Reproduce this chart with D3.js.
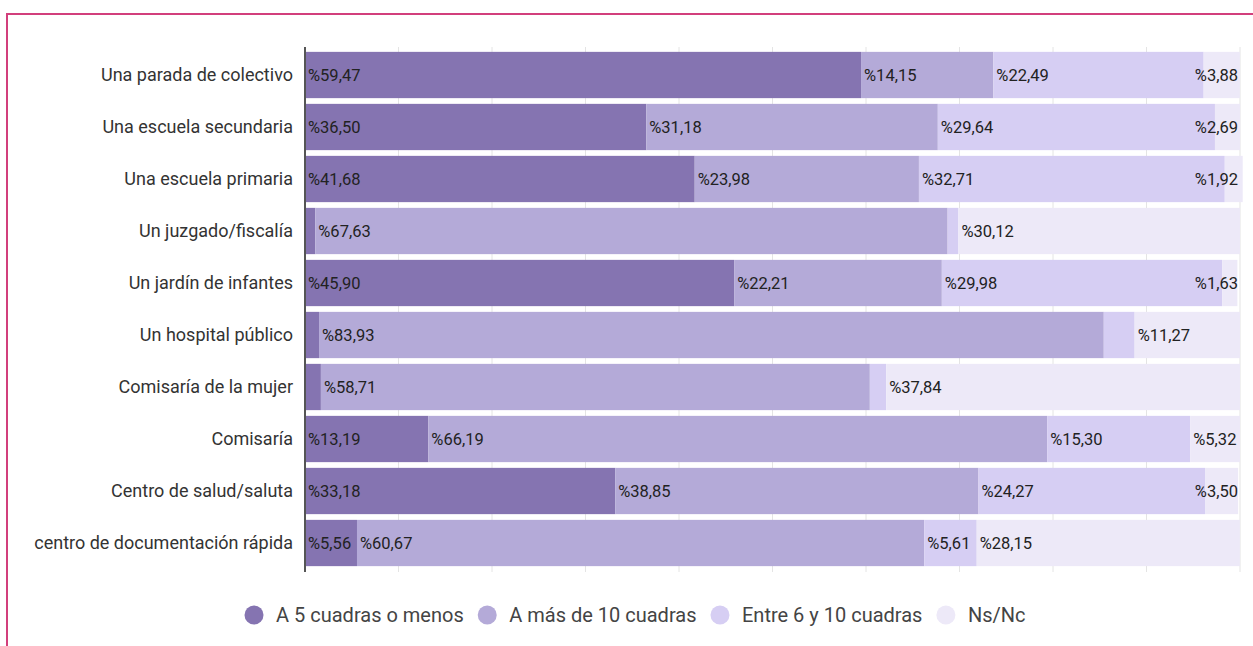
<!DOCTYPE html>
<html>
<head>
<meta charset="utf-8">
<script src="https://cdn.jsdelivr.net/npm/d3@7"></script>
<style>
  body { margin: 0; background: #fff; }
  svg { display: block; font-family: Roboto, "Noto Sans", sans-serif; }
</style>
</head>
<body>
<svg width="1253" height="646"></svg>
<script>
// categories, top to bottom
var categories = [
  "Una parada de colectivo",
  "Una escuela secundaria",
  "Una escuela primaria",
  "Un juzgado/fiscalía",
  "Un jardín de infantes",
  "Un hospital público",
  "Comisaría de la mujer",
  "Comisaría",
  "Centro de salud/saluta",
  "centro de documentación rápida"
];

var seriesNames = ["A 5 cuadras o menos", "A más de 10 cuadras", "Entre 6 y 10 cuadras", "Ns/Nc"];

// percentages per series (tiny unlabeled ones are estimated from the bar widths)
var cerca = [59.47, 36.50, 41.68, 1.10, 45.90, 1.50, 1.70, 13.19, 33.18, 5.56];
var lejos = [14.15, 31.18, 23.98, 67.63, 22.21, 83.93, 58.71, 66.19, 38.85, 60.67];
var medio = [22.49, 29.64, 32.71, 1.15, 29.98, 3.30, 1.75, 15.30, 24.27, 5.61];
var nsnc  = [3.88, 2.69, 1.92, 30.12, 1.63, 11.27, 37.84, 5.32, 3.50, 28.15];

var colors = ["#8574b1", "#b4aad8", "#d6cef3", "#ede9f8"];
var xTicks = d3.range(0, 101, 10);

var svg = d3.select("svg");

// pink frame (top and left edges only)
svg.append("path")
    .attr("d", "M7,646 V14 H1253")
    .attr("fill", "none")
    .attr("stroke", "#d23f7c")
    .attr("stroke-width", 2);

var left = 305, right = 1240;
var x = d3.scaleLinear().domain([0, 100]).range([left, right]);
var y = d3.scaleBand().domain(categories).range([49, 569]).paddingInner(0.11).paddingOuter(0.055);

// build stacked rows
var rows = categories.map(function(c, i) {
    return { cat: c, cerca: cerca[i], lejos: lejos[i], medio: medio[i], nsnc: nsnc[i] };
});
var keys = ["cerca", "lejos", "medio", "nsnc"];
var stacked = d3.stack().keys(keys)(rows);

// gridlines
svg.append("g")
    .selectAll("line")
    .data(xTicks)
    .enter().append("line")
    .attr("x1", d => x(d)).attr("x2", d => x(d))
    .attr("y1", 47).attr("y2", 572)
    .attr("stroke", "#e4e4e4")
    .attr("stroke-width", 1);

var layers = svg.append("g")
    .selectAll("g")
    .data(stacked)
    .enter().append("g")
    .attr("fill", (d, i) => colors[i]);

layers.selectAll("rect")
    .data(d => d)
    .enter().append("rect")
    .attr("x", d => x(d[0]))
    .attr("y", d => y(d.data.cat))
    .attr("width", d => x(d[1]) - x(d[0]))
    .attr("height", y.bandwidth());

// value labels
var labelG = svg.append("g")
    .attr("font-size", 16.5)
    .attr("fill", "#222");

stacked.forEach(function(layer, li) {
    var last = li == stacked.length - 1;
    layer.forEach(function(d) {
        var v = d[1] - d[0];
        var w = x(d[1]) - x(d[0]);
        // small inner segments get no label; the last one is pushed inside the plot
        if (w < 45 && !last) return;
        var t = labelG.append("text")
            .attr("y", y(d.data.cat) + y.bandwidth() / 2)
            .attr("dy", "0.35em")
            .text("%" + v.toFixed(2).replace(".", ","));
        var tw = t.node().getComputedTextLength();
        var tx = Math.min(x(d[0]) + 3, right - tw - 2);
        t.attr("x", tx);
    });
});

// axis line
svg.append("line")
    .attr("x1", left).attr("x2", left)
    .attr("y1", 47).attr("y2", 572)
    .attr("stroke", "#555")
    .attr("stroke-width", 2);

// category labels
svg.append("g")
    .selectAll("text")
    .data(categories)
    .enter().append("text")
    .attr("x", 293)
    .attr("y", d => y(d) + y.bandwidth() / 2)
    .attr("dy", "0.35em")
    .attr("text-anchor", "end")
    .attr("font-size", 18)
    .attr("fill", "#333")
    .text(d => d);

// legend
var legend = svg.append("g").attr("font-size", 20).attr("fill", "#444");
var items = legend.selectAll("g")
    .data(seriesNames)
    .enter().append("g");
items.append("circle").attr("r", 9.5).attr("cx", 0).attr("cy", 0).attr("fill", (d, i) => colors[i]);
items.append("text").attr("x", 22).attr("dy", "0.35em").text(d => d);

var widths = [];
items.each(function() { widths.push(this.getBBox().width); });
var gap = 14;
var total = d3.sum(widths) + gap * (widths.length - 1);
var pos = 635 - total / 2 + 9.5;
items.attr("transform", function(d, i) {
    var p = pos;
    pos += widths[i] + gap;
    return "translate(" + p + ",615)";
});
</script>
</body>
</html>
